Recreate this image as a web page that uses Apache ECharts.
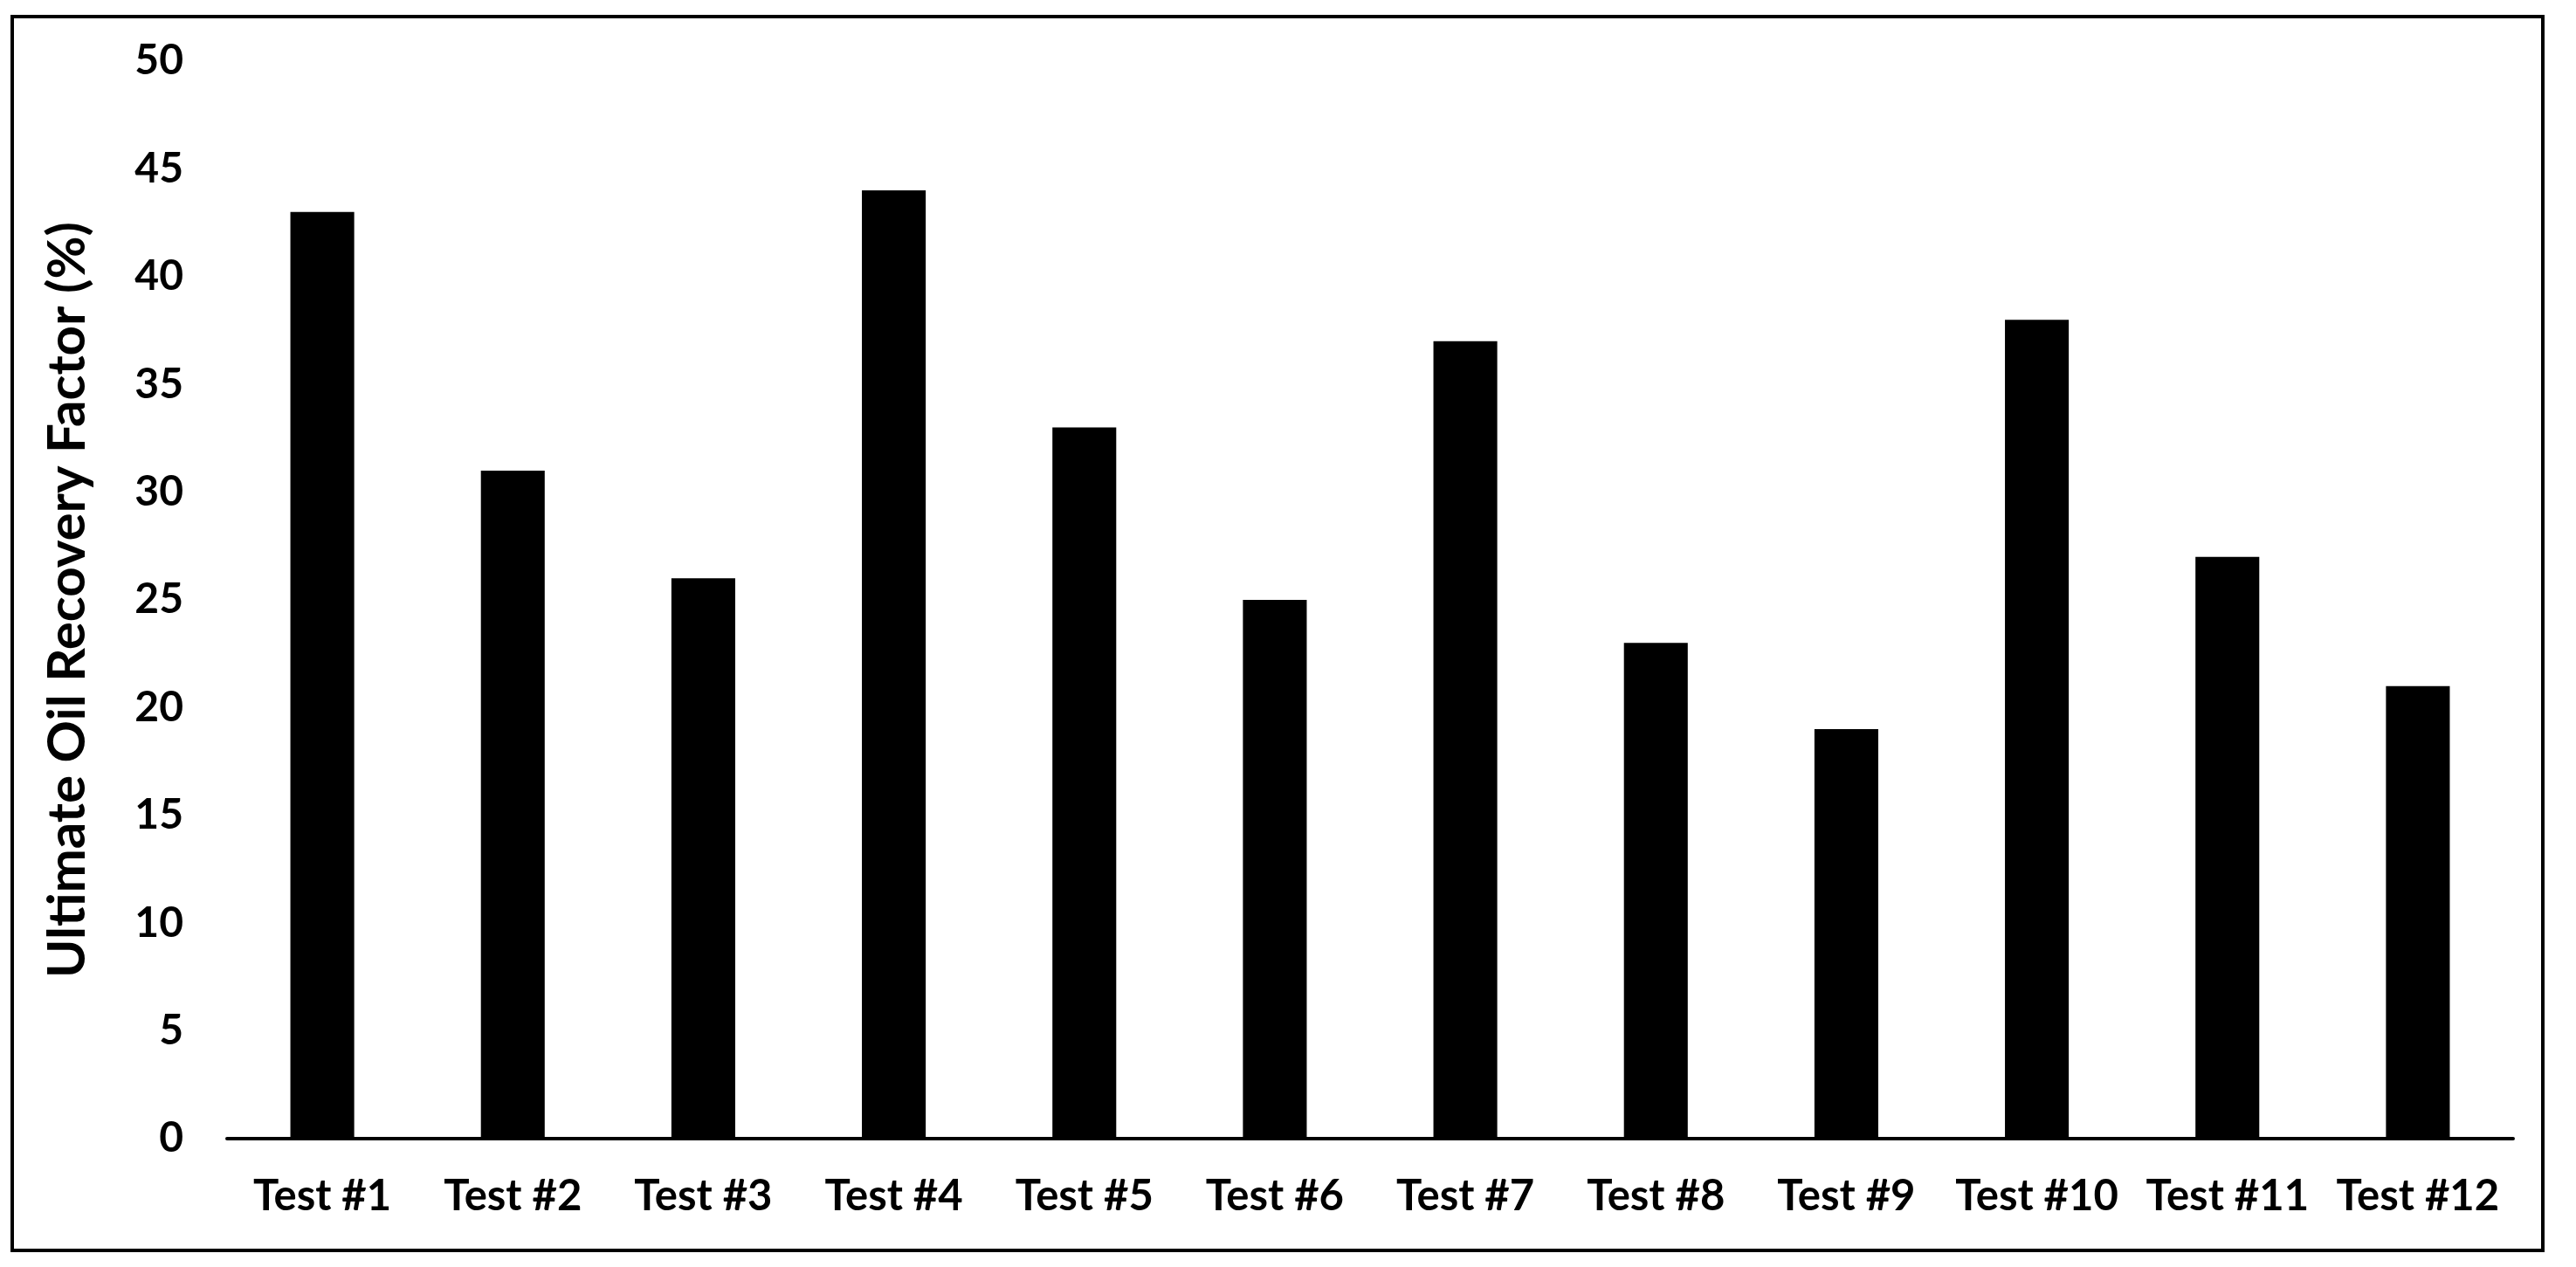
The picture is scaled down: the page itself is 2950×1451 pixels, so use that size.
<!DOCTYPE html>
<html>
<head>
<meta charset="utf-8">
<script src="https://cdn.jsdelivr.net/npm/echarts@6/dist/echarts.min.js"></script>
<style>
html,body{margin:0;padding:0;background:#fff;}
#c{width:2950px;height:1451px;}
</style>
</head>
<body>
<div id="c"></div>
<script>
const categories = ['Test #1','Test #2','Test #3','Test #4','Test #5','Test #6','Test #7','Test #8','Test #9','Test #10','Test #11','Test #12'];
const recovery = [43, 31, 26, 44, 33, 25, 37, 23, 19, 38, 27, 21];
const yTitle = 'Ultimate Oil Recovery Factor (%)';

const FONT = 'Lato';
const chart = echarts.init(document.getElementById('c'), null, {renderer:'canvas'});
chart.setOption({
  backgroundColor: '#fff',
  animation: false,
  graphic: [{
    type: 'rect',
    shape: {x: 14, y: 19, width: 2898, height: 1413},
    style: {fill: 'none', stroke: '#000', lineWidth: 4},
    silent: true
  }],
  grid: {left: 260, right: 72, top: 70, bottom: 147, containLabel: false},
  xAxis: {
    type: 'category',
    data: categories,
    axisLine: {show: true, lineStyle: {color: '#000', width: 4}},
    axisTick: {show: false},
    axisLabel: {interval: 0, hideOverlap: false, color: '#000', fontFamily: FONT, fontWeight: 'bold', fontSize: 49, margin: 42}
  },
  yAxis: {
    type: 'value',
    min: 0, max: 50, interval: 5,
    name: yTitle,
    nameLocation: 'middle',
    nameGap: 152,
    nameTextStyle: {color: '#000', fontFamily: FONT, fontWeight: 'bold', fontSize: 60},
    axisLine: {show: false},
    axisTick: {show: false},
    splitLine: {show: false},
    axisLabel: {color: '#000', fontFamily: FONT, fontWeight: 'bold', fontSize: 48, margin: 50}
  },
  series: [{
    type: 'bar',
    data: recovery,
    barWidth: '33.5%',
    itemStyle: {color: '#000'}
  }]
});
</script>
</body>
</html>
